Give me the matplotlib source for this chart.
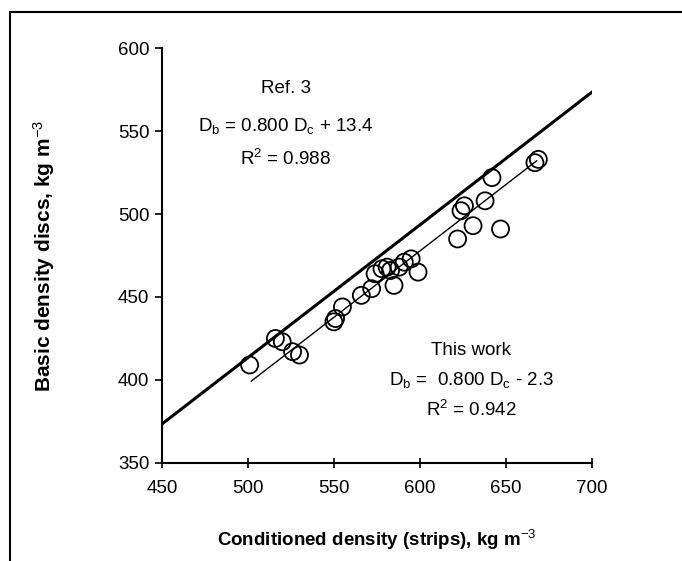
import matplotlib
matplotlib.use("Agg")
import matplotlib.pyplot as plt
from matplotlib.lines import Line2D
import numpy as np

plt.rcParams['font.family'] = ['Liberation Sans', 'DejaVu Sans']
plt.rcParams['mathtext.fontset'] = 'custom'
plt.rcParams['mathtext.rm'] = 'Liberation Sans'
plt.rcParams['mathtext.it'] = 'Liberation Sans'
plt.rcParams['mathtext.bf'] = 'Liberation Sans:bold'

# data
conditioned = [501, 516, 520, 526, 530, 550, 551, 555, 566, 572, 574, 578, 581, 583,
               585, 588, 591, 595, 599, 622, 624, 626, 631, 638, 642, 647, 667, 669]
basic = [409, 425, 423, 417, 415, 435, 437, 444, 451, 455, 464, 467, 468, 466,
         457, 468, 471, 473, 465, 485, 502, 505, 493, 508, 522, 491, 531, 533]

ref_slope, ref_icpt = 0.800, 13.4
ref_x = [450, 700]
work_slope, work_icpt = 0.800, -2.3
work_x = [502, 668]

x_ticks = [450, 500, 550, 600, 650, 700]
y_ticks = [350, 400, 450, 500, 550, 600]

fig = plt.figure(figsize=(6.82, 5.61), dpi=100)
ax = fig.add_axes([0.2375, 0.175, 0.63, 0.739])

ax.scatter(conditioned, basic, s=150, facecolors='none', edgecolors='black',
           linewidths=1.3, zorder=3)
rx = np.array(ref_x)
ax.plot(rx, ref_slope * rx + ref_icpt, color='black', lw=2.2, zorder=2)
wx = np.array(work_x)
ax.plot(wx, work_slope * wx + work_icpt, color='black', lw=1.0, zorder=2)

ax.set_xlim(450, 700)
ax.set_ylim(350, 600)
ax.set_xticks(x_ticks)
ax.set_yticks(y_ticks)
ax.tick_params(axis='both', labelsize=13.5, width=1.2, length=5, color='black')
ax.tick_params(axis='x', direction='inout', length=7, pad=9)
ax.tick_params(axis='y', direction='out', pad=4)
for s in ['top', 'right']:
    ax.spines[s].set_visible(False)
for s in ['left', 'bottom']:
    ax.spines[s].set_linewidth(1.5)

ax.set_xlabel('Conditioned density (strips), kg m$^{-3}$', fontsize=13.5,
              fontweight='bold', labelpad=22)
ax.set_ylabel('Basic density discs, kg m$^{-3}$', fontsize=15,
              fontweight='bold', labelpad=44)

ax.text(522, 576, 'Ref. 3', fontsize=13.5, ha='center', va='center')
ax.text(522, 553, 'D$_\\mathrm{b}$ = 0.800 D$_\\mathrm{c}$ + 13.4', fontsize=13.5,
        ha='center', va='center')
ax.text(522, 533, 'R$^\\mathrm{2}$ = 0.988', fontsize=13.5, ha='center', va='center')

ax.text(630, 418, 'This work', fontsize=13.5, ha='center', va='center')
ax.text(630, 400, 'D$_\\mathrm{b}$ =  0.800 D$_\\mathrm{c}$ - 2.3', fontsize=13.5,
        ha='center', va='center')
ax.text(630, 382, 'R$^\\mathrm{2}$ = 0.942', fontsize=13.5, ha='center', va='center')

# page frame (top and left edges)
fig.add_artist(Line2D([10 / 682, 10 / 682], [0, 1 - 12 / 561], color='black',
                      lw=1.5, transform=fig.transFigure))
fig.add_artist(Line2D([10 / 682, 1], [1 - 12 / 561, 1 - 12 / 561], color='black',
                      lw=1.5, transform=fig.transFigure))

fig.savefig('out.png', dpi=100)
